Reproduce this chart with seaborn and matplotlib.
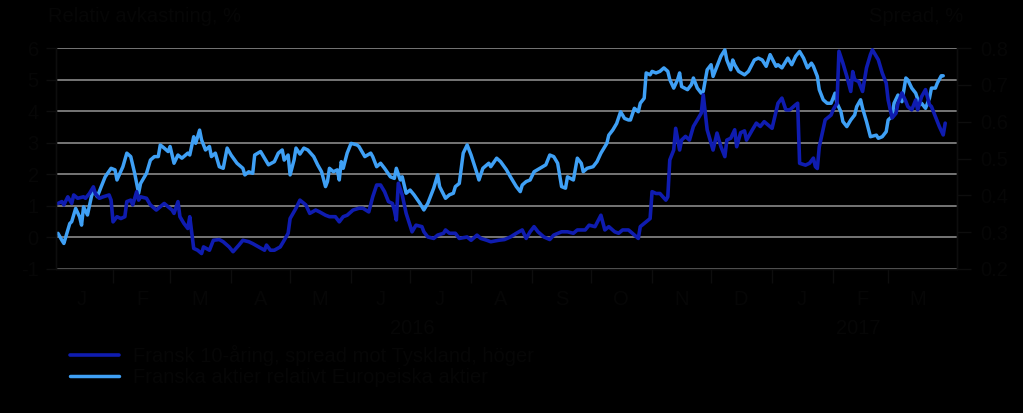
import numpy as np
import pandas as pd
import matplotlib
matplotlib.use("Agg")
import matplotlib.pyplot as plt
import matplotlib.dates as mdates
import matplotlib.transforms as mtransforms
import seaborn as sns

# ---------------- data ----------------
START = "2016-01-01"

# Franska aktier relativt Europeiska aktier (left axis, %), days since START
light_days = [
    3, 5, 6, 9, 10, 12, 14, 15, 16, 18,
    20, 21, 23, 25, 27, 30, 32, 33, 36, 38,
    40, 42, 44, 45, 48, 50, 52, 54, 55, 57,
    59, 60, 62, 64, 66, 69, 70, 72, 73, 75,
    76, 78, 80, 81, 83, 85, 87, 89, 91, 94,
    97, 98, 100, 102, 103, 106, 108, 110, 113, 115,
    117, 118, 120, 121, 123, 124, 126, 128, 130, 133,
    135, 137, 139, 140, 141, 143, 145, 146, 147, 148,
    150, 152, 155, 156, 159, 162, 163, 165, 167, 169,
    172, 174, 175, 177, 178, 180, 182, 184, 187, 189,
    191, 194, 196, 197, 200, 202, 204, 205, 207, 209,
    211, 213, 216, 217, 219, 222, 223, 226, 228, 231,
    233, 236, 238, 239, 241, 243, 245, 248, 251, 253,
    255, 257, 259, 261, 262, 265, 267, 269, 270, 272,
    275, 277, 279, 282, 283, 285, 287, 289, 291, 293,
    294, 296, 298, 299, 301, 302, 304, 305, 307, 309,
    311, 313, 314, 316, 318, 319, 320, 323, 325, 326,
    328, 330, 331, 333, 335, 336, 338, 340, 342, 343,
    345, 346, 347, 349, 352, 354, 357, 359, 361, 363,
    365, 368, 369, 371, 374, 376, 378, 380, 382, 384,
    386, 387, 389, 390, 392, 394, 396, 398, 399, 401,
    402, 404, 406, 408, 409, 411, 412, 414, 416, 419,
    420, 422, 424, 425, 427, 428, 430, 432, 434, 435,
    437, 439, 441, 442, 444, 446, 447, 449, 450, 452,
    453,
]
light_vals = [
    0.13, -0.09, -0.19, 0.44, 0.50, 0.92, 0.65, 0.39, 0.97, 0.71,
    1.29, 1.50, 1.29, 1.61, 1.92, 2.19, 2.14, 1.82, 2.24, 2.67,
    2.56, 2.03, 1.40, 1.71, 2.03, 2.45, 2.56, 2.56, 2.93, 2.83,
    2.72, 2.88, 2.35, 2.61, 2.51, 2.67, 2.61, 3.19, 2.98, 3.40,
    3.09, 2.77, 2.88, 2.56, 2.67, 2.24, 2.19, 2.83, 2.61, 2.35,
    2.19, 1.98, 2.08, 2.03, 2.61, 2.72, 2.51, 2.30, 2.40, 2.67,
    2.77, 2.45, 2.61, 1.98, 2.45, 2.83, 2.64, 2.83, 2.77, 2.56,
    2.30, 2.08, 1.61, 1.77, 2.19, 2.08, 2.14, 1.82, 2.40, 2.19,
    2.67, 2.98, 2.93, 2.88, 2.56, 2.67, 2.56, 2.24, 2.35, 2.19,
    1.92, 1.87, 2.19, 1.82, 1.92, 1.40, 1.50, 1.35, 1.08, 0.87,
    1.08, 1.56, 1.98, 1.61, 1.24, 1.35, 1.40, 1.61, 1.71, 2.67,
    2.93, 2.61, 2.03, 1.82, 2.19, 2.35, 2.24, 2.51, 2.40, 2.14,
    1.92, 1.61, 1.45, 1.66, 1.77, 1.82, 2.08, 2.19, 2.30, 2.61,
    2.56, 2.35, 1.61, 1.56, 1.92, 1.82, 2.51, 2.35, 2.08, 2.19,
    2.24, 2.40, 2.67, 2.98, 3.24, 3.40, 3.61, 3.98, 3.77, 3.72,
    3.72, 4.09, 3.98, 4.25, 4.41, 5.21, 5.15, 5.26, 5.21, 5.26,
    5.37, 5.26, 5.00, 4.73, 5.00, 5.21, 4.78, 4.68, 4.84, 5.05,
    4.73, 4.57, 4.62, 5.31, 5.47, 5.10, 5.42, 5.74, 5.94, 5.62,
    5.31, 5.62, 5.47, 5.26, 5.15, 5.26, 5.62, 5.68, 5.62, 5.42,
    5.79, 5.42, 5.47, 5.37, 5.68, 5.47, 5.74, 5.89, 5.68, 5.37,
    5.52, 5.42, 5.10, 4.68, 4.36, 4.25, 4.25, 4.57, 4.25, 3.98,
    3.67, 3.51, 3.72, 3.88, 4.14, 4.36, 4.09, 3.67, 3.19, 3.24,
    3.14, 3.19, 3.35, 3.72, 3.83, 4.25, 4.51, 4.30, 5.05, 4.99,
    4.73, 4.57, 4.20, 4.25, 4.09, 4.41, 4.73, 4.73, 4.89, 5.12,
    5.12,
]

# Fransk 10-aring, spread mot Tyskland (right axis, %), days since START
dark_days = [
    3, 5, 6, 8, 10, 11, 13, 16, 17, 19,
    21, 22, 24, 26, 29, 30, 31, 33, 35, 37,
    38, 40, 41, 43, 44, 45, 48, 50, 53, 55,
    57, 59, 61, 62, 64, 65, 67, 69, 70, 72,
    74, 76, 77, 80, 82, 85, 87, 90, 92, 95,
    97, 100, 102, 105, 108, 109, 111, 113, 116, 118,
    120, 121, 124, 126, 129, 131, 134, 136, 139, 141,
    144, 146, 148, 150, 153, 156, 158, 161, 163, 165,
    167, 169, 171, 173, 174, 175, 176, 178, 180, 183,
    185, 188, 189, 191, 194, 196, 199, 200, 202, 205,
    207, 211, 213, 216, 218, 221, 223, 227, 230, 233,
    236, 239, 241, 243, 245, 247, 250, 253, 255, 259,
    262, 265, 267, 271, 273, 276, 279, 281, 283, 286,
    288, 290, 293, 295, 298, 299, 302, 304, 305, 307,
    309, 312, 313, 314, 316, 317, 319, 320, 322, 324,
    326, 328, 330, 331, 333, 335, 336, 338, 340, 342,
    343, 345, 347, 348, 350, 352, 353, 356, 358, 360,
    362, 364, 366, 368, 369, 371, 373, 375, 378, 379,
    380, 383, 385, 387, 388, 389, 390, 393, 396, 397,
    399, 400, 402, 404, 406, 407, 408, 410, 412, 414,
    416, 417, 420, 422, 424, 425, 427, 429, 430, 432,
    434, 435, 437, 439, 440, 442, 444, 446, 447, 449,
    451, 453, 454,
]
dark_vals = [
    0.378, 0.383, 0.374, 0.396, 0.378, 0.401, 0.392, 0.396, 0.392, 0.405,
    0.423, 0.405, 0.392, 0.396, 0.401, 0.387, 0.328, 0.342, 0.337, 0.342,
    0.383, 0.387, 0.374, 0.410, 0.387, 0.396, 0.392, 0.374, 0.360, 0.369,
    0.378, 0.369, 0.360, 0.351, 0.383, 0.342, 0.324, 0.310, 0.342, 0.256,
    0.251, 0.242, 0.260, 0.251, 0.278, 0.280, 0.274, 0.260, 0.247, 0.265,
    0.278, 0.274, 0.269, 0.260, 0.251, 0.265, 0.251, 0.251, 0.260, 0.278,
    0.297, 0.337, 0.365, 0.387, 0.374, 0.351, 0.360, 0.355, 0.346, 0.342,
    0.342, 0.328, 0.342, 0.346, 0.360, 0.365, 0.365, 0.355, 0.396, 0.428,
    0.428, 0.410, 0.383, 0.378, 0.360, 0.333, 0.433, 0.401, 0.351, 0.301,
    0.319, 0.315, 0.301, 0.287, 0.283, 0.292, 0.297, 0.306, 0.297, 0.297,
    0.283, 0.287, 0.278, 0.292, 0.283, 0.278, 0.274, 0.278, 0.280, 0.287,
    0.297, 0.306, 0.283, 0.301, 0.315, 0.301, 0.287, 0.280, 0.292, 0.301,
    0.301, 0.297, 0.306, 0.306, 0.319, 0.315, 0.346, 0.306, 0.315, 0.301,
    0.297, 0.306, 0.306, 0.297, 0.283, 0.315, 0.328, 0.337, 0.410, 0.405,
    0.405, 0.387, 0.396, 0.496, 0.523, 0.582, 0.523, 0.550, 0.560, 0.550,
    0.587, 0.605, 0.623, 0.673, 0.578, 0.541, 0.523, 0.569, 0.532, 0.505,
    0.550, 0.555, 0.578, 0.532, 0.570, 0.575, 0.550, 0.578, 0.596, 0.587,
    0.600, 0.591, 0.582, 0.627, 0.650, 0.664, 0.632, 0.632, 0.646, 0.650,
    0.487, 0.482, 0.487, 0.501, 0.478, 0.473, 0.532, 0.605, 0.618, 0.632,
    0.650, 0.791, 0.759, 0.723, 0.682, 0.736, 0.714, 0.709, 0.682, 0.746,
    0.782, 0.795, 0.768, 0.732, 0.705, 0.659, 0.610, 0.623, 0.650, 0.678,
    0.655, 0.641, 0.632, 0.659, 0.632, 0.668, 0.687, 0.646, 0.641, 0.614,
    0.587, 0.564, 0.596,
]

month_labels = ["J", "F", "M", "A", "M", "J", "J", "A", "S", "O", "N", "D", "J", "F", "M"]
year_labels = ["2016", "2017"]
left_ticks = [-1, 0, 1, 2, 3, 4, 5, 6]
right_ticks = [0.2, 0.3, 0.4, 0.5, 0.6, 0.7, 0.8]

name_dark = "Fransk 10-\u00e5ring, spread mot Tyskland, h\u00f6ger"
name_light = "Franska aktier relativt Europeiska aktier"
title_left = "Relativ avkastning, %"
title_right = "Spread, %"

# ---------------- style ----------------
sns.set_theme(style="white")
plt.rcParams["font.family"] = ["Liberation Sans", "DejaVu Sans"]

BG = "black"
TXT = "#060606"
SPINE = "#0d0d0d"
GRID = "#8a8a8a"
C_LIGHT = "#3FA0F5"
C_DARK = "#0F1CB0"
FS = 14.5
W, H = 1023, 413

start = pd.Timestamp(START)
light_df = pd.DataFrame({"date": start + pd.to_timedelta(light_days, unit="D"), "val": light_vals})
dark_df = pd.DataFrame({"date": start + pd.to_timedelta(dark_days, unit="D"), "val": dark_vals})

fig = plt.figure(figsize=(W / 100, H / 100), dpi=100, facecolor=BG)
ax = fig.add_axes([55.5 / W, 1 - 269 / H, (957 - 55.5) / W, (269 - 48) / H])
ax.set_facecolor(BG)

sns.lineplot(data=light_df, x="date", y="val", ax=ax, color=C_LIGHT, lw=2.5,
             label=name_light, legend=False)
ax2 = ax.twinx()
ax2.set_facecolor("none")
sns.lineplot(data=dark_df, x="date", y="val", ax=ax2, color=C_DARK, lw=2.6,
             label=name_dark, legend=False)

for a in (ax, ax2):
    if a.get_legend() is not None:
        a.get_legend().remove()
    a.set_xlabel("")
    a.set_ylabel("")

# axes limits
ax.set_xlim(mdates.date2num(pd.Timestamp("2016-01-02 18:00")),
            mdates.date2num(pd.Timestamp("2017-04-05")))
ax.set_ylim(-1, 6)
ax2.set_ylim(0.2, 0.8)

# y ticks
ax.set_yticks(left_ticks)
ax.set_yticklabels([str(t) for t in left_ticks])
ax2.set_yticks(right_ticks)
ax2.set_yticklabels([f"{t:.1f}" for t in right_ticks])
ax.grid(axis="y", color=GRID, lw=1.2)
ax.grid(axis="x", visible=False)
ax2.grid(False)
ax.set_axisbelow(True)

ax.tick_params(axis="y", which="major", left=True, length=7, width=1, color=SPINE,
               direction="out", pad=5, labelsize=FS, labelcolor=TXT)
ax2.tick_params(axis="y", which="major", right=True, length=10, width=1, color=SPINE,
                direction="out", pad=7, labelsize=FS, labelcolor=TXT)

# x ticks: month boundaries (major) and month labels (minor)
month_starts = pd.date_range("2016-02-01", "2017-03-01", freq="MS")
month_mids = pd.date_range("2016-01-01", "2017-03-01", freq="MS") + pd.Timedelta(days=15)
ax.set_xticks(mdates.date2num(month_starts))
ax.set_xticks(mdates.date2num(month_mids), minor=True)
ax.set_xticklabels([])
ax.set_xticklabels(month_labels, minor=True)
ax.tick_params(axis="x", which="major", bottom=True, length=10, width=1, color=SPINE,
               direction="out", labelbottom=False)
ax.tick_params(axis="x", which="minor", bottom=True, length=0, pad=15,
               labelsize=FS, labelcolor=TXT)
ax2.tick_params(axis="x", which="both", bottom=False, labelbottom=False)

for a in (ax, ax2):
    a.spines["top"].set_visible(False)
    for s in ("left", "right", "bottom"):
        a.spines[s].set_color(SPINE)
        a.spines[s].set_linewidth(1)

# year labels
trans = mtransforms.blended_transform_factory(ax.transData, fig.transFigure)
ax.text(mdates.date2num(pd.Timestamp("2016-07-02")), 1 - 328 / H, year_labels[0],
        transform=trans, ha="center", va="center", fontsize=FS, color=TXT)
ax.text(mdates.date2num(pd.Timestamp("2017-02-14")), 1 - 328 / H, year_labels[1],
        transform=trans, ha="center", va="center", fontsize=FS, color=TXT)

# axis titles
fig.text(48 / W, 1 - 17 / H, title_left, ha="left", va="center", fontsize=FS, color=TXT)
fig.text(963 / W, 1 - 17 / H, title_right, ha="right", va="center", fontsize=FS, color=TXT)

# legend
h1, l1 = ax.get_legend_handles_labels()
h2, l2 = ax2.get_legend_handles_labels()
fig.legend(h2 + h1, l2 + l1, loc="center left", bbox_to_anchor=(70 / W, 1 - 366 / H),
           frameon=False, fontsize=FS, handlelength=2.45, handletextpad=0.7,
           labelspacing=0.12, borderpad=0, borderaxespad=0, labelcolor=TXT)

fig.savefig("out.png", dpi=100, facecolor=BG)
